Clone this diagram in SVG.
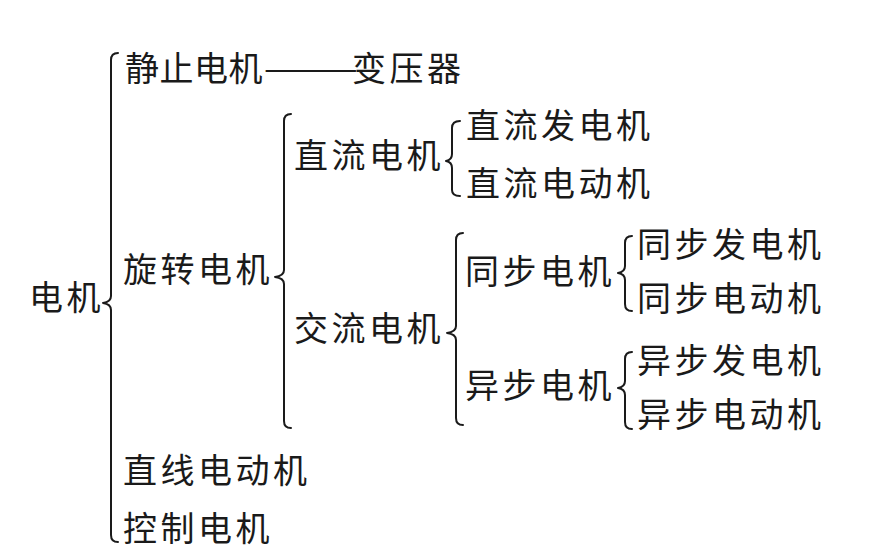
<svg xmlns="http://www.w3.org/2000/svg" width="870" height="559" viewBox="0 0 870 559">
  <style>
    text { font-family: "Noto Sans CJK SC", "Noto Sans", sans-serif; font-size: 34px; fill: #1a1a1a; letter-spacing: 3.5px; }
    .tight { letter-spacing: 0.5px; }
    .rule { letter-spacing: 0; }
    .brace { fill: none; stroke: #1a1a1a; stroke-width: 2; stroke-linecap: round; stroke-linejoin: round; }
  </style>
  <rect width="870" height="559" fill="#ffffff"/>

  <g id="connectors">
    <!-- 电机 -->
    <path class="brace" d="M118,53 Q111,53 111,60 L111,296 Q111,302 103,303 Q111,304 111,310 L111,535 Q111,542 118,542"/>
    <!-- 旋转电机 -->
    <path class="brace" d="M291,114 Q284,114 284,121 L284,270 Q284,276 275,277 Q284,278 284,284 L284,421 Q284,428 291,428"/>
    <!-- 直流电机 -->
    <path class="brace" d="M460,121 Q452,121 452,128 L452,154 Q452,160 446,161 Q452,162 452,168 L452,190 Q452,196 460,196"/>
    <!-- 交流电机 -->
    <path class="brace" d="M463,233 Q456,233 456,240 L456,326 Q456,332 447,333 Q456,334 456,340 L456,418 Q456,425 463,425"/>
    <!-- 同步电机 -->
    <path class="brace" d="M632,236 Q625,236 625,243 L625,266 Q625,272 618,273 Q625,274 625,280 L625,304 Q625,311 632,311"/>
    <!-- 异步电机 -->
    <path class="brace" d="M632,352 Q625,352 625,359 L625,381 Q625,387 618,388 Q625,389 625,395 L625,422 Q625,429 632,429"/>
  </g>

  <g id="n-motor"><text x="29" y="310">电机</text></g>
  <g id="n-static">
    <text class="tight" x="125" y="81">静止电机</text>
    <!-- the long rule is stretched horizontally only -->
    <text class="rule" transform="translate(263,81) scale(1.68,1)">——</text>
    <text x="352" y="81">变压器</text>
  </g>
  <g id="n-rotating"><text x="123" y="282">旋转电机</text></g>
  <g id="n-linear"><text x="123" y="483">直线电动机</text></g>
  <g id="n-control"><text x="123" y="541">控制电机</text></g>

  <g id="n-dc"><text x="294" y="168">直流电机</text></g>
  <g id="n-ac"><text x="294" y="341">交流电机</text></g>

  <g id="n-dc-gen"><text x="466" y="138">直流发电机</text></g>
  <g id="n-dc-mot"><text x="466" y="196">直流电动机</text></g>

  <g id="n-sync"><text x="465" y="284">同步电机</text></g>
  <g id="n-async"><text x="465" y="398">异步电机</text></g>

  <g id="n-sync-gen"><text x="637" y="257">同步发电机</text></g>
  <g id="n-sync-mot"><text x="637" y="311">同步电动机</text></g>
  <g id="n-async-gen"><text x="637" y="373">异步发电机</text></g>
  <g id="n-async-mot"><text x="637" y="427">异步电动机</text></g>
</svg>
